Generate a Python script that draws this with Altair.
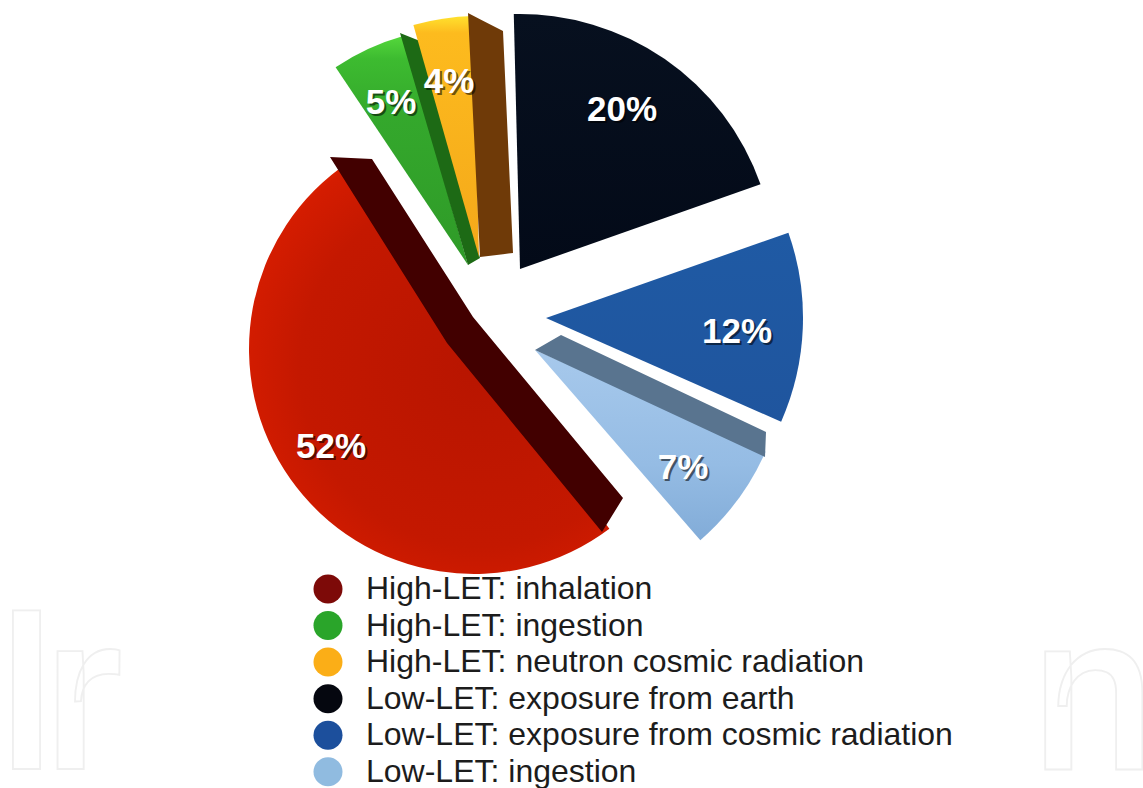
import altair as alt
import numpy as np

# Shares of annual dose by source, in clockwise drawing order
sources = [
    "High-LET: inhalation",
    "High-LET: ingestion",
    "High-LET: neutron cosmic radiation",
    "Low-LET: exposure from earth",
    "Low-LET: exposure from cosmic radiation",
    "Low-LET: ingestion",
]
shares = [52, 5, 4, 20, 12, 7]
legend_colors = ["#7d0a08", "#2aa52a", "#fbae17", "#05070f", "#1c4f9c", "#90bbe0"]

W, H = 1143, 788
START_DEG = 139

# Exploded placement of each slice: centre x, centre y, radius
placement = [(474, 349, 225), (468, 265, 238), (479, 257, 241),
             (520, 269, 255), (546, 318, 257), (535, 350, 252)]

# Label anchor for each slice
label_pos = [(331, 447), (391, 103), (449, 82), (622, 110), (737, 332), (683, 468)]


def linear(stops):
    return {"gradient": "linear", "x1": 0.5, "y1": 0, "x2": 0.5, "y2": 1,
            "stops": [{"offset": o, "color": c} for o, c in stops]}


def radial(stops):
    return {"gradient": "radial", "x1": 0.62, "y1": 0.5, "x2": 0.62, "y2": 0.5,
            "r1": 0, "r2": 0.62,
            "stops": [{"offset": o, "color": c} for o, c in stops]}


face_fills = [
    radial([(0, "#b81500"), (0.7, "#c41800"), (0.93, "#d41c00"), (0.985, "#e22600"), (1, "#f0380a")]),
    linear([(0, "#55d83c"), (0.1, "#3dbb30"), (0.35, "#34a82c"), (1, "#2f9a28")]),
    linear([(0, "#ffe22e"), (0.07, "#fdbb1e"), (1, "#f4a81a")]),
    linear([(0, "#07101f"), (1, "#030a18")]),
    linear([(0, "#1f5aa4"), (1, "#1f559e")]),
    linear([(0, "#a7c9ec"), (0.6, "#95bce4"), (1, "#82acd8")]),
]

# Side walls of the extruded slices, as upper and lower outlines
walls = [
    ("#420000", [(330, 157), (372, 159), (473, 317), (623, 498)],
     [(330, 157), (447, 343), (602, 532), (623, 498)], 0),
    ("#1d6a15", [(400, 33), (420, 41), (480, 258)],
     [(400, 33), (468, 265), (480, 258)], 1),
    ("#6f3a08", [(468, 13), (503, 31), (513, 253)],
     [(468, 13), (480, 257), (513, 253)], 2),
    ("#59748f", [(535, 350), (561, 335), (766, 432)],
     [(535, 350), (765, 457), (766, 432)], 5),
]

# Small trim so the large slice's front corner ends under its wall
face_trim = {0: 0.07}


def wall_rows(upper, lower):
    ux, uy = zip(*upper)
    lx, ly = zip(*lower)
    stops = sorted(set(ux) | set(lx))
    return [{"x": float(s), "y": float(np.interp(s, ux, uy)), "y2": float(np.interp(s, lx, ly))}
            for s in stops]


edges = np.cumsum([0] + shares).tolist()
rows = [{"source": s, "share": v, "start": a, "end": b, "label": f"{v}%"}
        for s, v, a, b in zip(sources, shares, edges[:-1], edges[1:])]

theta_scale = alt.Scale(domain=[0, 100],
                        range=[np.deg2rad(START_DEG), np.deg2rad(START_DEG + 360)])
px_x = alt.X("x:Q", scale=None, axis=None)
px_y = alt.Y("y:Q", scale=None, axis=None)

layers = []

# Faint outlined lettering behind the chart
for txt, left in [("I", -5), ("r", 44), ("n", 1032)]:
    layers.append(
        alt.Chart(alt.Data(values=[{"t": txt}])).mark_text(
            font="Roboto", fontWeight=500, fontSize=222, align="left", baseline="alphabetic",
            fill="white", stroke="#efefef", strokeWidth=1.8,
        ).encode(x=alt.value(left), y=alt.value(769), text="t:N")
    )
layers.append(
    alt.Chart(alt.Data(values=[{"t": 0}])).mark_rect(color="white").encode(
        x=alt.value(133), x2=alt.value(1040), y=alt.value(590), y2=alt.value(788))
)

# Invisible arcs that only carry the colour legend
layers.append(
    alt.Chart(alt.Data(values=rows)).mark_arc(opacity=0, outerRadius=10).encode(
        x=alt.value(500), y=alt.value(300),
        theta=alt.Theta("start:Q", scale=theta_scale),
        theta2="end:Q",
        color=alt.Color(
            "source:N",
            scale=alt.Scale(domain=sources, range=legend_colors),
            legend=alt.Legend(
                title=None, orient="none", legendX=312, legendY=573,
                symbolType="circle", symbolSize=841, symbolOpacity=1,
                symbolStrokeWidth=0, labelFont="Liberation Sans", labelFontSize=32,
                labelColor="#1c1c1c", labelLimit=800, labelOffset=22,
                rowPadding=4.55, padding=0,
            ),
        ),
    )
)

# Slices and their walls, back to front
for i in [3, 4, 5, 0, 1, 2]:
    cx, cy, r = placement[i]
    layers.append(
        alt.Chart(alt.Data(values=[rows[i]])).mark_arc(
            outerRadius=r, fill=face_fills[i], thetaOffset=face_trim.get(i, 0)
        ).encode(
            x=alt.value(cx), y=alt.value(cy),
            theta=alt.Theta("start:Q", scale=theta_scale), theta2="end:Q",
        )
    )
    for color, upper, lower, owner in walls:
        if owner == i:
            layers.append(
                alt.Chart(alt.Data(values=wall_rows(upper, lower))).mark_area(
                    color=color, interpolate="linear"
                ).encode(x=px_x, y=px_y, y2="y2:Q")
            )

# Percentage labels with a dark drop shadow
for i, (lx, ly) in enumerate(label_pos):
    for dx, color, alpha in [(2, "#000000", 0.55), (0, "#ffffff", 1)]:
        layers.append(
            alt.Chart(alt.Data(values=[rows[i]])).mark_text(
                font="Liberation Sans", fontWeight="bold", fontSize=35,
                color=color, opacity=alpha, align="center", baseline="middle",
            ).encode(x=alt.value(lx + dx), y=alt.value(ly + dx), text="label:N")
        )

chart = (
    alt.layer(*layers)
    .properties(width=W, height=H, padding=0, autosize=alt.AutoSizeParams(type="none"),
                background="white")
    .configure_view(stroke=None)
)

chart.save("out.html", embed_options={"renderer": "svg", "actions": False})
